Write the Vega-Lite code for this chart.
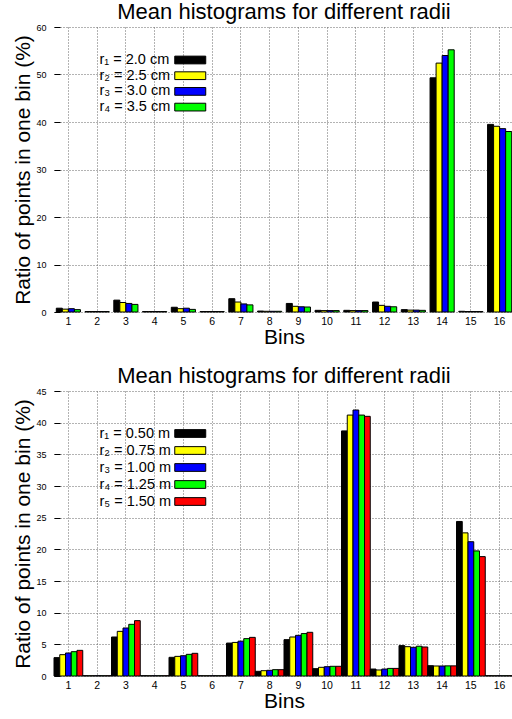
{
  "$schema": "https://vega.github.io/schema/vega-lite/v6.json",
  "padding": {"left": 12, "right": 0, "top": 1, "bottom": 5},
  "spacing": 17,
  "config": {
    "font": "Liberation Sans",
    "view": {"stroke": null},
    "title": {"fontSize": 22, "fontWeight": "normal", "color": "black", "font": "Liberation Sans"},
    "axis": {
      "domain": false,
      "gridColor": "#666",
      "gridDash": [1, 2],
      "gridWidth": 1,
      "gridOpacity": 1,
      "tickColor": "black",
      "labelColor": "black",
      "titleColor": "black",
      "titleFontWeight": "normal",
      "titleFontSize": 21,
      "titleFont": "Liberation Sans",
      "labelFont": "Liberation Sans"
    }
  },
  "resolve": {"scale": {"color": "independent", "x": "independent", "y": "independent", "xOffset": "independent"}, "legend": {"color": "independent"}},
  "vconcat": [
    {
      "width": 460,
      "height": 285,
      "title": {"text": "Mean histograms for different radii", "offset": -1},
      "data": {"values": [
        {"bin": 1, "radius": "r₁ = 2.0 cm", "value": 0.8}, {"bin": 1, "radius": "r₂ = 2.5 cm", "value": 0.6}, {"bin": 1, "radius": "r₃ = 3.0 cm", "value": 0.7}, {"bin": 1, "radius": "r₄ = 3.5 cm", "value": 0.5},
        {"bin": 2, "radius": "r₁ = 2.0 cm", "value": 0.1}, {"bin": 2, "radius": "r₂ = 2.5 cm", "value": 0.1}, {"bin": 2, "radius": "r₃ = 3.0 cm", "value": 0.1}, {"bin": 2, "radius": "r₄ = 3.5 cm", "value": 0.1},
        {"bin": 3, "radius": "r₁ = 2.0 cm", "value": 2.5}, {"bin": 3, "radius": "r₂ = 2.5 cm", "value": 2.0}, {"bin": 3, "radius": "r₃ = 3.0 cm", "value": 1.8}, {"bin": 3, "radius": "r₄ = 3.5 cm", "value": 1.6},
        {"bin": 4, "radius": "r₁ = 2.0 cm", "value": 0.1}, {"bin": 4, "radius": "r₂ = 2.5 cm", "value": 0.1}, {"bin": 4, "radius": "r₃ = 3.0 cm", "value": 0.1}, {"bin": 4, "radius": "r₄ = 3.5 cm", "value": 0.1},
        {"bin": 5, "radius": "r₁ = 2.0 cm", "value": 1.0}, {"bin": 5, "radius": "r₂ = 2.5 cm", "value": 0.7}, {"bin": 5, "radius": "r₃ = 3.0 cm", "value": 0.8}, {"bin": 5, "radius": "r₄ = 3.5 cm", "value": 0.55},
        {"bin": 6, "radius": "r₁ = 2.0 cm", "value": 0.1}, {"bin": 6, "radius": "r₂ = 2.5 cm", "value": 0.1}, {"bin": 6, "radius": "r₃ = 3.0 cm", "value": 0.1}, {"bin": 6, "radius": "r₄ = 3.5 cm", "value": 0.1},
        {"bin": 7, "radius": "r₁ = 2.0 cm", "value": 2.8}, {"bin": 7, "radius": "r₂ = 2.5 cm", "value": 2.1}, {"bin": 7, "radius": "r₃ = 3.0 cm", "value": 1.7}, {"bin": 7, "radius": "r₄ = 3.5 cm", "value": 1.5},
        {"bin": 8, "radius": "r₁ = 2.0 cm", "value": 0.2}, {"bin": 8, "radius": "r₂ = 2.5 cm", "value": 0.15}, {"bin": 8, "radius": "r₃ = 3.0 cm", "value": 0.15}, {"bin": 8, "radius": "r₄ = 3.5 cm", "value": 0.15},
        {"bin": 9, "radius": "r₁ = 2.0 cm", "value": 1.8}, {"bin": 9, "radius": "r₂ = 2.5 cm", "value": 1.2}, {"bin": 9, "radius": "r₃ = 3.0 cm", "value": 1.1}, {"bin": 9, "radius": "r₄ = 3.5 cm", "value": 1.05},
        {"bin": 10, "radius": "r₁ = 2.0 cm", "value": 0.35}, {"bin": 10, "radius": "r₂ = 2.5 cm", "value": 0.3}, {"bin": 10, "radius": "r₃ = 3.0 cm", "value": 0.3}, {"bin": 10, "radius": "r₄ = 3.5 cm", "value": 0.3},
        {"bin": 11, "radius": "r₁ = 2.0 cm", "value": 0.35}, {"bin": 11, "radius": "r₂ = 2.5 cm", "value": 0.3}, {"bin": 11, "radius": "r₃ = 3.0 cm", "value": 0.3}, {"bin": 11, "radius": "r₄ = 3.5 cm", "value": 0.3},
        {"bin": 12, "radius": "r₁ = 2.0 cm", "value": 2.1}, {"bin": 12, "radius": "r₂ = 2.5 cm", "value": 1.4}, {"bin": 12, "radius": "r₃ = 3.0 cm", "value": 1.2}, {"bin": 12, "radius": "r₄ = 3.5 cm", "value": 1.1},
        {"bin": 13, "radius": "r₁ = 2.0 cm", "value": 0.5}, {"bin": 13, "radius": "r₂ = 2.5 cm", "value": 0.4}, {"bin": 13, "radius": "r₃ = 3.0 cm", "value": 0.4}, {"bin": 13, "radius": "r₄ = 3.5 cm", "value": 0.35},
        {"bin": 14, "radius": "r₁ = 2.0 cm", "value": 49.3}, {"bin": 14, "radius": "r₂ = 2.5 cm", "value": 52.4}, {"bin": 14, "radius": "r₃ = 3.0 cm", "value": 54.0}, {"bin": 14, "radius": "r₄ = 3.5 cm", "value": 55.2},
        {"bin": 15, "radius": "r₁ = 2.0 cm", "value": 0.15}, {"bin": 15, "radius": "r₂ = 2.5 cm", "value": 0.1}, {"bin": 15, "radius": "r₃ = 3.0 cm", "value": 0.1}, {"bin": 15, "radius": "r₄ = 3.5 cm", "value": 0.1},
        {"bin": 16, "radius": "r₁ = 2.0 cm", "value": 39.5}, {"bin": 16, "radius": "r₂ = 2.5 cm", "value": 39.1}, {"bin": 16, "radius": "r₃ = 3.0 cm", "value": 38.6}, {"bin": 16, "radius": "r₄ = 3.5 cm", "value": 38.0}
      ]},
      "mark": {"type": "bar", "stroke": "black", "strokeWidth": 1},
      "encoding": {
        "x": {"field": "bin", "type": "ordinal", "title": "Bins",
          "scale": {"paddingInner": 0.16, "paddingOuter": 0.08},
          "axis": {"labelAngle": 0, "labelFontSize": 10.5, "bandPosition": 0.5, "ticks": false, "labelPadding": 4, "titlePadding": 0, "grid": true}},
        "y": {"field": "value", "type": "quantitative", "title": "Ratio of points in one bin (%)",
          "scale": {"domain": [0, 60], "nice": false},
          "axis": {"values": [0, 10, 20, 30, 40, 50, 60], "labelFontSize": 9, "tickSize": -6, "labelPadding": 14, "titlePadding": 2, "grid": true}},
        "xOffset": {"field": "radius", "type": "nominal", "scale": {"paddingInner": 0, "domain": ["r₁ = 2.0 cm", "r₂ = 2.5 cm", "r₃ = 3.0 cm", "r₄ = 3.5 cm"]}},
        "color": {"field": "radius", "type": "nominal",
          "scale": {"domain": ["r₁ = 2.0 cm", "r₂ = 2.5 cm", "r₃ = 3.0 cm", "r₄ = 3.5 cm"], "range": ["#000000", "#ffff00", "#0000ff", "#00ff00"]},
          "legend": {"orient": "none", "legendX": 46, "legendY": 24.5, "title": null, "padding": 0,
            "symbolType": "M-2,-0.5H2V0.5H-2Z", "symbolSize": 240, "symbolStrokeColor": "black", "symbolStrokeWidth": 1, "symbolOpacity": 1,
            "symbolOffset": 81.75, "labelOffset": -99.25, "labelFontSize": 14.5, "labelColor": "black", "rowPadding": 0.7}}
      }
    },
    {
      "width": 460,
      "height": 285,
      "title": {"text": "Mean histograms for different radii", "offset": -1},
      "data": {"values": [
        {"bin": 1, "radius": "r₁ = 0.50 m", "value": 2.9}, {"bin": 1, "radius": "r₂ = 0.75 m", "value": 3.37}, {"bin": 1, "radius": "r₃ = 1.00 m", "value": 3.63}, {"bin": 1, "radius": "r₄ = 1.25 m", "value": 3.84}, {"bin": 1, "radius": "r₅ = 1.50 m", "value": 4.05},
        {"bin": 2, "radius": "r₁ = 0.50 m", "value": 0.05}, {"bin": 2, "radius": "r₂ = 0.75 m", "value": 0.05}, {"bin": 2, "radius": "r₃ = 1.00 m", "value": 0.05}, {"bin": 2, "radius": "r₄ = 1.25 m", "value": 0.05}, {"bin": 2, "radius": "r₅ = 1.50 m", "value": 0.05},
        {"bin": 3, "radius": "r₁ = 0.50 m", "value": 6.16}, {"bin": 3, "radius": "r₂ = 0.75 m", "value": 7.05}, {"bin": 3, "radius": "r₃ = 1.00 m", "value": 7.58}, {"bin": 3, "radius": "r₄ = 1.25 m", "value": 8.16}, {"bin": 3, "radius": "r₅ = 1.50 m", "value": 8.74},
        {"bin": 4, "radius": "r₁ = 0.50 m", "value": 0.05}, {"bin": 4, "radius": "r₂ = 0.75 m", "value": 0.05}, {"bin": 4, "radius": "r₃ = 1.00 m", "value": 0.05}, {"bin": 4, "radius": "r₄ = 1.25 m", "value": 0.05}, {"bin": 4, "radius": "r₅ = 1.50 m", "value": 0.05},
        {"bin": 5, "radius": "r₁ = 0.50 m", "value": 2.95}, {"bin": 5, "radius": "r₂ = 0.75 m", "value": 3.1}, {"bin": 5, "radius": "r₃ = 1.00 m", "value": 3.2}, {"bin": 5, "radius": "r₄ = 1.25 m", "value": 3.42}, {"bin": 5, "radius": "r₅ = 1.50 m", "value": 3.58},
        {"bin": 6, "radius": "r₁ = 0.50 m", "value": 0.05}, {"bin": 6, "radius": "r₂ = 0.75 m", "value": 0.05}, {"bin": 6, "radius": "r₃ = 1.00 m", "value": 0.05}, {"bin": 6, "radius": "r₄ = 1.25 m", "value": 0.05}, {"bin": 6, "radius": "r₅ = 1.50 m", "value": 0.05},
        {"bin": 7, "radius": "r₁ = 0.50 m", "value": 5.2}, {"bin": 7, "radius": "r₂ = 0.75 m", "value": 5.3}, {"bin": 7, "radius": "r₃ = 1.00 m", "value": 5.5}, {"bin": 7, "radius": "r₄ = 1.25 m", "value": 5.9}, {"bin": 7, "radius": "r₅ = 1.50 m", "value": 6.1},
        {"bin": 8, "radius": "r₁ = 0.50 m", "value": 0.74}, {"bin": 8, "radius": "r₂ = 0.75 m", "value": 0.84}, {"bin": 8, "radius": "r₃ = 1.00 m", "value": 0.9}, {"bin": 8, "radius": "r₄ = 1.25 m", "value": 1.0}, {"bin": 8, "radius": "r₅ = 1.50 m", "value": 1.0},
        {"bin": 9, "radius": "r₁ = 0.50 m", "value": 5.74}, {"bin": 9, "radius": "r₂ = 0.75 m", "value": 6.16}, {"bin": 9, "radius": "r₃ = 1.00 m", "value": 6.42}, {"bin": 9, "radius": "r₄ = 1.25 m", "value": 6.7}, {"bin": 9, "radius": "r₅ = 1.50 m", "value": 6.9},
        {"bin": 10, "radius": "r₁ = 0.50 m", "value": 1.16}, {"bin": 10, "radius": "r₂ = 0.75 m", "value": 1.37}, {"bin": 10, "radius": "r₃ = 1.00 m", "value": 1.47}, {"bin": 10, "radius": "r₄ = 1.25 m", "value": 1.53}, {"bin": 10, "radius": "r₅ = 1.50 m", "value": 1.53},
        {"bin": 11, "radius": "r₁ = 0.50 m", "value": 38.7}, {"bin": 11, "radius": "r₂ = 0.75 m", "value": 41.2}, {"bin": 11, "radius": "r₃ = 1.00 m", "value": 42.0}, {"bin": 11, "radius": "r₄ = 1.25 m", "value": 41.2}, {"bin": 11, "radius": "r₅ = 1.50 m", "value": 41.0},
        {"bin": 12, "radius": "r₁ = 0.50 m", "value": 1.1}, {"bin": 12, "radius": "r₂ = 0.75 m", "value": 0.95}, {"bin": 12, "radius": "r₃ = 1.00 m", "value": 1.1}, {"bin": 12, "radius": "r₄ = 1.25 m", "value": 1.2}, {"bin": 12, "radius": "r₅ = 1.50 m", "value": 1.2},
        {"bin": 13, "radius": "r₁ = 0.50 m", "value": 4.8}, {"bin": 13, "radius": "r₂ = 0.75 m", "value": 4.63}, {"bin": 13, "radius": "r₃ = 1.00 m", "value": 4.53}, {"bin": 13, "radius": "r₄ = 1.25 m", "value": 4.7}, {"bin": 13, "radius": "r₅ = 1.50 m", "value": 4.58},
        {"bin": 14, "radius": "r₁ = 0.50 m", "value": 1.63}, {"bin": 14, "radius": "r₂ = 0.75 m", "value": 1.58}, {"bin": 14, "radius": "r₃ = 1.00 m", "value": 1.58}, {"bin": 14, "radius": "r₄ = 1.25 m", "value": 1.6}, {"bin": 14, "radius": "r₅ = 1.50 m", "value": 1.6},
        {"bin": 15, "radius": "r₁ = 0.50 m", "value": 24.4}, {"bin": 15, "radius": "r₂ = 0.75 m", "value": 22.6}, {"bin": 15, "radius": "r₃ = 1.00 m", "value": 21.2}, {"bin": 15, "radius": "r₄ = 1.25 m", "value": 19.75}, {"bin": 15, "radius": "r₅ = 1.50 m", "value": 18.85},
        {"bin": 16, "radius": "r₁ = 0.50 m", "value": 0.05}, {"bin": 16, "radius": "r₂ = 0.75 m", "value": 0.05}, {"bin": 16, "radius": "r₃ = 1.00 m", "value": 0.05}, {"bin": 16, "radius": "r₄ = 1.25 m", "value": 0.05}, {"bin": 16, "radius": "r₅ = 1.50 m", "value": 0.05}
      ]},
      "mark": {"type": "bar", "stroke": "black", "strokeWidth": 1},
      "encoding": {
        "x": {"field": "bin", "type": "ordinal", "title": "Bins",
          "scale": {"paddingInner": 0, "paddingOuter": 0},
          "axis": {"labelAngle": 0, "labelFontSize": 10.5, "bandPosition": 0.5, "ticks": false, "labelPadding": 4, "titlePadding": 0, "grid": true}},
        "y": {"field": "value", "type": "quantitative", "title": "Ratio of points in one bin (%)",
          "scale": {"domain": [0, 45], "nice": false},
          "axis": {"values": [0, 5, 10, 15, 20, 25, 30, 35, 40, 45], "labelFontSize": 9, "tickSize": -6, "labelPadding": 14, "titlePadding": 2, "grid": true}},
        "xOffset": {"field": "radius", "type": "nominal", "scale": {"paddingInner": 0, "domain": ["r₁ = 0.50 m", "r₂ = 0.75 m", "r₃ = 1.00 m", "r₄ = 1.25 m", "r₅ = 1.50 m"]}},
        "color": {"field": "radius", "type": "nominal",
          "scale": {"domain": ["r₁ = 0.50 m", "r₂ = 0.75 m", "r₃ = 1.00 m", "r₄ = 1.25 m", "r₅ = 1.50 m"], "range": ["#000000", "#ffff00", "#0000ff", "#00ff00", "#ff0000"]},
          "legend": {"orient": "none", "legendX": 46, "legendY": 34, "title": null, "padding": 0,
            "symbolType": "M-2,-0.5H2V0.5H-2Z", "symbolSize": 240, "symbolStrokeColor": "black", "symbolStrokeWidth": 1, "symbolOpacity": 1,
            "symbolOffset": 81.75, "labelOffset": -99.25, "labelFontSize": 14.5, "labelColor": "black", "rowPadding": 2}}
      }
    }
  ]
}
